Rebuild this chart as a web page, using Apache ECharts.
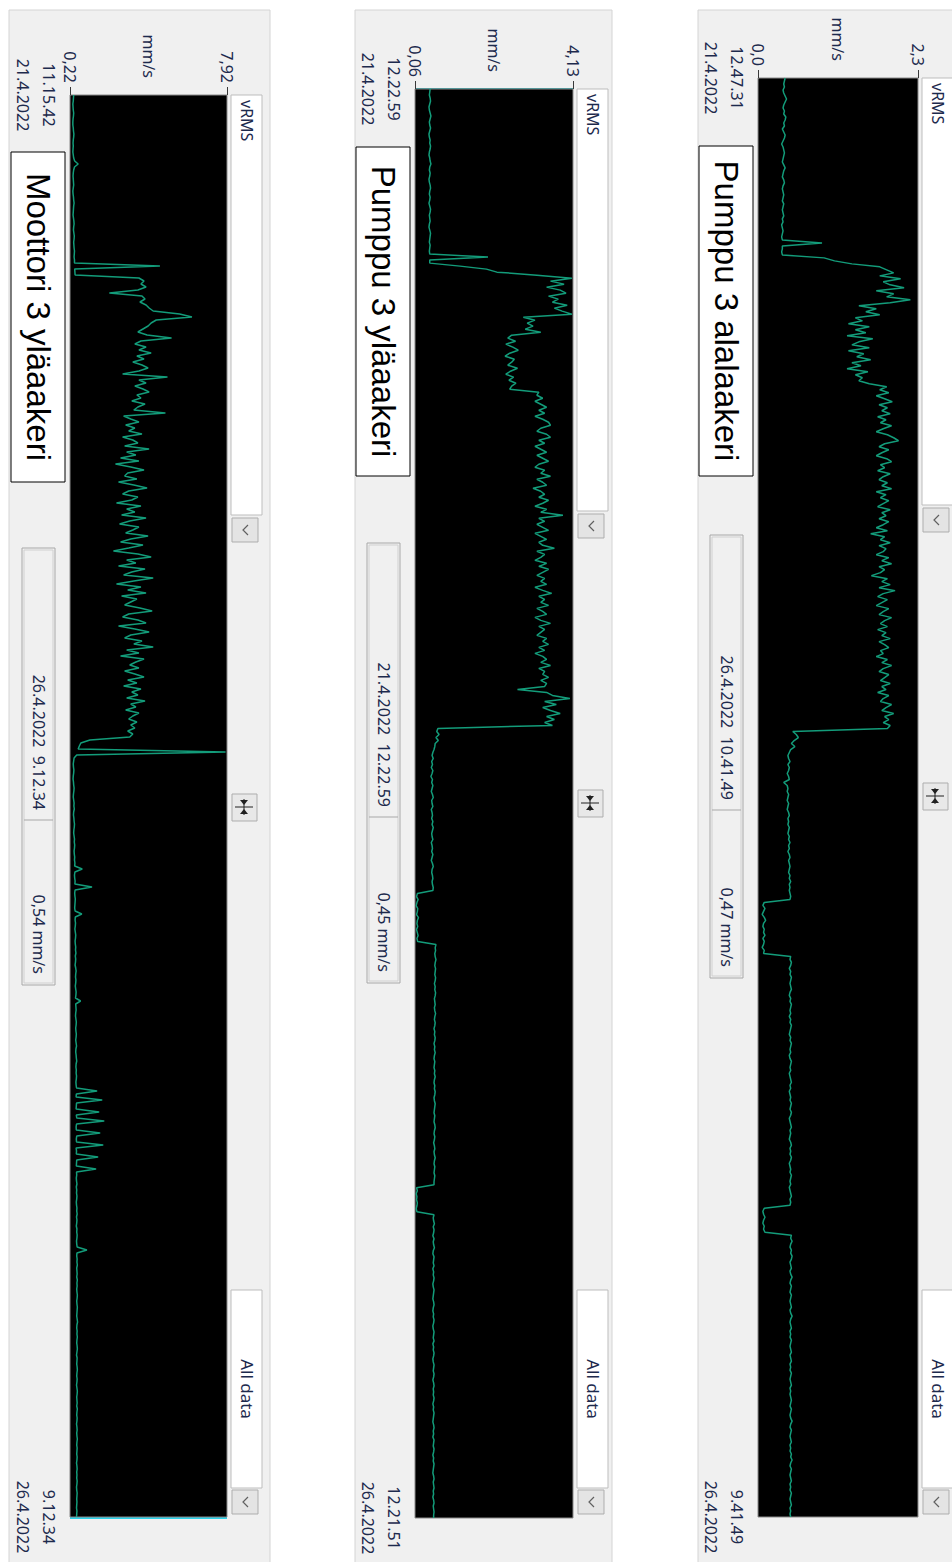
<!DOCTYPE html>
<html>
<head>
<meta charset="utf-8">
<script src="https://cdn.jsdelivr.net/npm/echarts@6/dist/echarts.min.js"></script>
<style>
  html, body { margin: 0; padding: 0; background: #ffffff; }
  #chart { width: 952px; height: 1562px; }
</style>
</head>
<body>
<div id="chart"></div>
<script>
// ---- vRMS trend data (mm/s), equally spaced samples, start -> end ----
const motorUpperRms = [
  0.40,0.39,0.38,0.36,0.37,0.38,0.40,0.39,0.37,0.36,0.36,0.38,0.39,0.41,0.40,0.38,0.37,0.38,0.37,0.36,
  0.38,0.40,0.45,0.62,0.44,0.40,0.38,0.37,0.38,0.39,0.40,0.38,0.36,0.37,0.39,0.40,0.42,0.40,0.39,0.38,
  0.37,0.39,0.41,0.42,0.40,0.39,0.41,0.43,0.42,0.40,0.41,0.42,0.44,0.43,0.42,0.44,
  0.44,4.63,0.45,0.46,0.47,
  3.60,3.85,3.70,3.95,3.55,2.15,3.75,3.90,3.65,3.95,
  4.10,4.30,5.60,6.20,4.45,4.20,4.05,
  3.80,3.55,4.00,5.20,3.70,3.40,3.95,3.60,4.20,3.50,3.85,3.30,3.75,4.05,3.60,
  2.80,5.00,3.60,3.95,3.40,3.80,4.10,3.50,3.70,3.25,3.90,3.55,3.35,
  4.90,2.85,3.20,3.60,2.95,3.40,3.10,3.75,2.80,3.30,3.55,2.90,4.10,
  3.00,3.45,2.70,3.60,2.45,3.20,3.85,3.05,2.90,3.50,2.60,3.35,4.00,3.10,2.80,3.55,3.25,2.50,3.70,3.00,
  3.40,2.75,3.95,3.15,2.65,3.60,3.30,2.95,4.05,3.20,
  2.70,3.80,3.10,2.35,3.55,4.20,3.00,3.45,2.60,3.90,3.25,2.85,4.30,3.35,2.50,3.70,3.05,3.95,2.75,3.50,
  3.20,2.90,
  3.65,4.25,3.10,2.80,3.55,3.95,2.60,3.40,4.10,3.20,2.90,3.75,3.35,4.30,3.00,3.60,2.70,3.85,3.45,3.15,
  3.60,2.90,3.40,3.85,3.05,3.50,2.85,3.70,3.25,3.55,3.00,3.90,3.20,3.45,2.95,3.60,3.30,3.10,3.50,3.20,
  3.40,3.05,3.30,3.15,
  1.20,0.75,0.68,0.62,7.85,0.55,
  0.42,0.40,0.38,0.39,0.41,0.40,0.38,0.37,0.39,0.40,0.42,0.41,0.39,0.38,0.40,0.42,0.41,0.43,0.40,0.39,
  0.41,0.42,0.44,0.43,0.41,0.40,0.42,0.44,0.43,0.45,0.44,0.42,0.43,0.45,0.44,
  0.46,0.45,0.82,0.46,0.44,0.45,0.47,0.46,1.30,0.47,0.45,0.46,0.48,0.47,0.46,0.45,0.47,0.80,0.48,
  0.47,0.49,0.48,0.46,0.48,0.50,0.49,0.47,0.48,0.50,0.49,0.51,0.48,0.50,0.49,0.47,0.50,0.52,0.50,0.49,
  0.51,0.50,0.48,0.50,0.52,0.51,0.49,0.74,0.50,0.51,0.52,0.50,0.49,0.51,0.53,0.52,0.50,0.51,0.53,0.52,
  0.50,0.52,0.54,0.51,0.50,0.52,0.53,0.55,0.52,0.51,0.53,0.52,0.54,0.53,0.51,0.52,0.54,
  1.55,0.53,0.52,1.80,0.54,0.53,0.52,1.65,0.53,0.55,1.90,0.54,0.52,0.53,1.70,0.55,0.53,0.54,1.85,0.52,
  0.54,0.53,1.60,0.55,0.54,0.53,1.50,0.54,0.55,0.53,
  0.54,0.56,0.53,0.55,0.54,0.56,0.55,0.53,0.54,0.56,0.55,0.57,0.54,0.56,0.55,0.53,0.56,0.55,0.57,0.56,
  0.54,0.55,0.57,1.05,0.56,0.55,0.57,0.56,0.58,0.55,0.56,0.57,0.55,0.58,0.56,0.57,0.55,0.56,0.58,0.57,
  0.55,0.56,0.58,0.57,0.56,0.55,0.57,0.59,0.56,0.55,0.57,0.56,0.58,0.56,0.55,0.57,0.58,0.56,0.54,0.57,
  0.56,0.55,0.57,0.58,0.56,0.55,0.57,0.56,0.54,0.56,0.58,0.57,0.55,0.56,0.57,0.55,0.58,0.56,0.55,0.57,
  0.56,0.54,0.56,0.57,0.55,0.56,0.58,0.56,0.55,0.57,0.56,0.55,0.57,0.56,0.54,0.56,0.57,0.55,0.56,0.55,
  0.57,0.56,0.54,0.55,0.57,0.56,0.55,0.56,0.55,0.54,0.56,0.55,0.54
];
const pumpUpperRms = [
  0.45,0.44,0.43,0.45,0.46,0.44,0.42,0.43,0.45,0.47,0.45,0.43,0.44,0.46,0.44,0.42,0.43,0.45,0.44,0.46,
  0.45,0.43,0.42,0.44,0.45,0.47,0.44,0.43,0.45,0.44,0.42,0.43,0.45,0.46,0.44,0.43,0.45,0.44,0.42,0.44,
  0.46,0.45,0.43,0.44,0.45,0.43,0.42,0.44,0.46,0.45,0.44,0.43,0.45,0.44,0.43,0.44,
  1.94,0.44,0.44,1.22,1.90,2.17,3.20,4.10,
  3.55,3.90,3.45,3.80,3.95,3.50,3.75,3.60,3.98,3.65,3.85,
  4.10,
  2.85,3.15,2.95,3.10,2.90,
  3.30,2.55,
  2.45,2.65,2.40,2.58,2.72,2.50,2.38,2.62,2.55,2.45,2.70,2.52,2.40,2.60,2.48,2.66,2.55,2.50,
  3.25,
  3.20,3.35,3.15,3.30,3.45,3.25,3.40,3.15,3.35,3.50,3.55,3.30,3.20,3.45,3.55,3.25,3.40,3.15,3.30,3.45,
  3.20,3.35,3.50,3.25,3.15,3.40,3.30,3.55,3.20,3.35,3.45,3.10,3.30,3.40,3.25,3.50,3.35,3.15,3.45,3.30,
  3.87,3.25,3.40,3.20,3.35,3.50,3.15,3.30,3.45,3.25,3.35,3.65,3.20,3.40,3.30,3.15,3.45,3.25,3.50,3.35,
  3.20,3.40,3.30,3.45,3.15,3.35,3.58,3.25,3.40,3.30,3.50,3.20,3.35,3.45,3.15,3.30,3.55,3.25,3.40,3.30,
  3.20,3.45,3.35,3.50,3.25,3.40,3.15,3.35,3.45,3.30,3.55,3.25,3.40,3.35,3.50,3.30,3.45,3.40,
  2.70,
  3.45,3.60,4.05,3.40,3.70,3.35,3.55,3.80,3.45,3.65,3.40,3.60,
  0.65,
  0.62,0.68,0.60,0.66,0.58,0.57,
  0.55,0.52,0.50,0.53,0.49,0.51,0.48,0.52,0.50,0.47,0.51,0.49,0.52,0.50,0.48,0.51,0.53,0.49,0.50,0.52,
  0.48,0.50,0.51,0.49,0.52,0.50,0.53,0.51,0.49,0.50,0.52,0.48,0.50,0.51,0.49,0.52,0.50,0.48,0.51,0.53,
  0.50,0.49,0.51,0.52,0.50,0.51,0.53,0.52,
  0.12,0.10,0.14,0.11,0.09,0.13,0.12,0.10,0.15,0.12,0.11,0.13,0.10,0.12,0.14,0.11,0.13,
  0.60,0.58,0.59,0.57,0.58,0.60,0.58,0.57,0.59,0.58,0.57,0.59,0.58,0.56,0.58,0.57,0.59,0.58,0.56,0.57,
  0.58,0.56,0.57,0.59,0.57,0.56,0.58,0.57,0.55,0.57,0.56,0.58,0.57,0.55,0.57,0.56,0.58,0.56,0.55,0.57,
  0.56,0.55,0.57,0.56,0.58,0.56,0.55,0.57,0.56,0.58,0.57,0.55,0.56,0.58,0.57,0.56,0.55,0.57,0.56,0.55,
  0.57,0.58,0.56,0.55,0.57,0.56,0.54,0.56,0.57,0.55,0.56,0.58,0.56,0.55,0.57,0.56,0.55,0.57,0.56,0.55,
  0.55,
  0.10,0.12,0.09,0.11,0.10,0.12,0.11,0.09,0.11,
  0.55,0.53,0.54,0.56,0.53,0.55,0.54,0.52,0.55,0.53,0.54,0.56,0.53,0.52,0.55,0.54,0.53,0.55,0.52,0.54,
  0.53,0.55,0.54,0.52,0.53,0.55,0.54,0.53,0.52,0.54,0.55,0.53,0.52,0.54,0.53,0.55,0.54,0.52,0.53,0.55,
  0.54,0.53,0.55,0.52,0.54,0.53,0.55,0.54,0.52,0.53,0.55,0.54,0.53,0.55,0.54,0.52,0.54,0.55,0.53,0.54,
  0.53,0.55,0.54,0.52,0.54,0.53,0.55,0.54,0.53,0.52,0.54,0.55,0.53,0.54,0.52,0.55,0.54,0.53,0.55,0.54,
  0.52,0.54,0.53,0.55,0.54,0.53,0.52,0.54,0.55,0.53,0.54,0.55,0.53,0.54,0.52,0.54,0.55,0.53,0.54,0.55,
  0.54,0.54
];
const pumpLowerRms = [
  0.39,0.38,0.37,0.38,0.36,0.37,0.39,0.41,0.39,0.37,0.36,0.38,0.37,0.40,0.39,0.37,0.38,0.35,0.37,0.39,
  0.38,0.36,0.34,0.36,0.37,0.38,0.37,0.36,0.35,0.37,0.39,0.37,0.36,0.35,0.37,0.38,0.36,0.35,0.36,0.37,
  0.36,0.35,0.37,0.36,0.35,0.36,0.37,0.35,0.36,0.34,0.35,0.36,0.35,0.34,0.35,
  0.92,
  0.35,0.35,0.34,0.35,
  0.95,1.10,1.35,1.75,
  1.85,1.95,1.75,2.05,1.80,1.90,2.10,1.70,1.95,1.85,2.19,1.90,
  1.45,1.70,
  1.55,1.75,1.40,
  1.50,1.30,1.60,1.40,1.55,1.28,1.65,1.45,1.35,1.60,1.30,1.52,1.42,1.62,1.35,1.48,1.28,1.58,1.40,1.50,
  1.45,
  1.60,1.85,
  1.75,1.88,1.70,1.82,1.93,1.74,1.86,1.78,1.90,1.72,1.84,1.76,1.92,1.80,1.70,1.86,1.95,2.02,1.82,1.74,
  1.88,1.78,1.70,1.85,1.92,1.76,1.82,1.72,1.90,1.80,1.74,1.86,1.78,1.92,1.70,1.84,1.76,1.88,1.80,1.72,
  1.90,1.78,1.84,1.74,1.88,1.80,1.70,1.86,1.62,1.82,1.76,1.90,1.74,1.84,1.80,1.70,1.88,1.78,1.92,1.74,
  1.82,1.76,1.63,1.86,1.78,1.90,1.74,1.97,1.80,1.72,1.86,1.78,1.70,1.88,1.80,1.74,1.92,1.82,1.76,1.86,
  1.72,1.84,1.78,1.90,1.74,1.82,1.88,1.76,1.80,1.70,1.86,1.78,1.92,1.80,1.74,1.88,1.82,1.76,1.90,1.78,
  1.84,1.72,1.88,1.80,1.76,1.92,1.84,1.78,1.95,1.82,1.88,1.80,1.90,1.86,
  0.50,
  0.55,0.58,0.52,0.48,0.53,0.47,
  0.45,0.43,0.44,0.46,0.43,0.45,0.44,0.42,0.44,0.45,
  0.37,
  0.42,0.43,0.42,0.44,0.43,0.42,0.44,0.43,0.42,0.44,0.45,0.43,0.44,0.43,0.45,0.44,0.43,0.45,0.44,0.46,
  0.44,0.45,0.43,0.45,0.46,0.44,0.45,0.46,0.45,0.44,0.46,0.45,0.47,0.45,0.46,0.45,0.46,0.47,0.46,
  0.09,0.07,0.10,0.08,0.06,0.09,0.11,0.08,0.07,0.09,0.08,0.10,0.07,0.09,0.08,0.06,0.09,0.08,
  0.47,0.46,0.48,0.47,0.45,0.47,0.46,0.48,0.47,0.46,0.47,0.48,0.46,0.45,0.47,0.46,0.48,0.47,0.46,0.47,
  0.45,0.47,0.46,0.48,0.47,0.46,0.45,0.47,0.46,0.48,0.47,0.46,0.47,0.45,0.46,0.48,0.47,0.46,0.47,0.45,
  0.46,0.47,0.48,0.46,0.47,0.45,0.46,0.47,0.46,0.48,0.47,0.46,0.48,0.47,0.45,0.46,0.47,0.48,0.46,0.47,
  0.46,0.45,0.47,0.48,0.46,0.47,0.46,0.48,0.47,0.45,0.46,0.47,0.46,0.48,0.47,0.46,0.47,0.45,0.46,0.47,
  0.48,0.46,0.47,0.46,
  0.09,0.07,0.08,0.10,0.08,0.07,0.09,0.08,0.10,
  0.48,0.47,0.49,0.47,0.46,0.48,0.47,0.49,0.48,0.46,0.47,0.48,0.46,0.47,0.49,0.47,0.46,0.48,0.47,0.46,
  0.48,0.47,0.46,0.47,0.48,0.46,0.47,0.49,0.47,0.46,0.47,0.48,0.46,0.47,0.46,0.48,0.47,0.46,0.47,0.48,
  0.46,0.47,0.48,0.46,0.47,0.46,0.48,0.47,0.46,0.47,0.48,0.46,0.47,0.46,0.47,0.48,0.47,0.46,0.48,0.47,
  0.46,0.47,0.49,0.47,0.46,0.48,0.47,0.46,0.47,0.48,0.46,0.47,0.46,0.48,0.47,0.49,0.47,0.46,0.48,0.47,
  0.46,0.47,0.48,0.46,0.47,0.46,0.48,0.47,0.46,0.47,0.48,0.46,0.47,0.46,0.47
];

// ---- texts ----
const panelTitles   = ['Moottori 3 yläaakeri', 'Pumppu 3 yläaakeri', 'Pumppu 3 alalaakeri'];
const valueRanges   = [[0.22, 7.92], [0.06, 4.13], [0.0, 2.3]];
const valueDecimals = [2, 2, 1];
const startLabels   = ['11.15.42\n21.4.2022', '12.22.59\n21.4.2022', '12.47.31\n21.4.2022'];
const endLabels     = ['9.12.34\n26.4.2022', '12.21.51\n26.4.2022', '9.41.49\n26.4.2022'];
const cursorTimes   = ['26.4.2022  9.12.34', '21.4.2022  12.22.59', '26.4.2022  10.41.49'];
const cursorValues  = ['0,54 mm/s', '0,45 mm/s', '0,47 mm/s'];
const unitName      = 'mm/s';
const quantityName  = 'vRMS';
const rangeName     = 'All data';
const seriesList    = [motorUpperRms, pumpUpperRms, pumpLowerRms];

// ---- layout of the three rotated trend panels ----
const layout = [
  { gl: 70,  gt: 95, gw: 157, gh: 1422, bgL: 9,   bgR: 270, selEnd: 515, chev1: 518, comp: 794,
    allTop: 1290, allBot: 1488, chev2: 1490, tTop: 152, tBot: 482, rTop: 548, rDiv: 820, rBot: 985,
    cursor: 'end', cursorColor: '#2ad2ea' },
  { gl: 415, gt: 89, gw: 158, gh: 1429, bgL: 355, bgR: 612, selEnd: 511, chev1: 514, comp: 790,
    allTop: 1290, allBot: 1488, chev2: 1490, tTop: 147, tBot: 476, rTop: 543, rDiv: 817, rBot: 983,
    cursor: 'start', cursorColor: '#1fa0a6' },
  { gl: 758, gt: 78, gw: 160, gh: 1439, bgL: 698, bgR: 980, selEnd: 505, chev1: 508, comp: 783,
    allTop: 1290, allBot: 1488, chev2: 1490, tTop: 146, tBot: 476, rTop: 535, rDiv: 810, rBot: 978,
    cursor: null, cursorColor: null }
];

const UI_FONT = '"Noto Sans", "DejaVu Sans", sans-serif';
const LABEL_COLOR = '#1d2a4d';
const TRACE_COLOR = '#139c7a';

function rect(x, y, w, h, fill, stroke, z) {
  return { type: 'rect', z: z, silent: true,
    shape: { x: x, y: y, width: w, height: h },
    style: { fill: fill, stroke: stroke || null, lineWidth: 1 } };
}
// text turned a quarter turn clockwise, read from top to bottom
function vText(x, y, text, o) {
  o = o || {};
  return { type: 'text', z: 20, silent: true, x: x, y: y, rotation: -Math.PI / 2,
    style: { text: text, fill: o.color || LABEL_COLOR,
      font: (o.weight || 'normal') + ' ' + (o.size || 16) + 'px ' + (o.family || UI_FONT),
      align: o.align || 'center', verticalAlign: o.va || 'middle',
      textAlign: o.align || 'center', textVerticalAlign: o.va || 'middle' } };
}
function chevronButton(x, y) {
  // small drop-down button, its arrow turned with the panel
  return [
    rect(x, y, 26, 24, '#e4e4e4', '#adadad', 3),
    { type: 'polyline', z: 4, silent: true,
      shape: { points: [[x + 16, y + 7], [x + 11, y + 12], [x + 16, y + 17]] },
      style: { stroke: '#606060', lineWidth: 1.2, fill: null } }
  ];
}
function compressButton(x, y) {
  const cx = x + 12, cy = y + 13;
  return [
    rect(x, y, 25, 27, '#e8e8e8', '#adadad', 3),
    { type: 'line', z: 4, silent: true, shape: { x1: cx - 9, y1: cy, x2: cx + 9, y2: cy },
      style: { stroke: '#202020', lineWidth: 1 } },
    { type: 'line', z: 4, silent: true, shape: { x1: cx, y1: cy - 8, x2: cx, y2: cy + 8 },
      style: { stroke: '#202020', lineWidth: 1 } },
    { type: 'polygon', z: 4, silent: true, shape: { points: [[cx - 4, cy - 7], [cx + 4, cy - 7], [cx, cy - 2]] },
      style: { fill: '#202020' } },
    { type: 'polygon', z: 4, silent: true, shape: { points: [[cx - 4, cy + 7], [cx + 4, cy + 7], [cx, cy + 2]] },
      style: { fill: '#202020' } }
  ];
}

const option = {
  animation: false,
  backgroundColor: '#ffffff',
  grid: [], xAxis: [], yAxis: [], series: []
};

layout.forEach(function (L, k) {
  const values = seriesList[k];
  const n = values.length;
  const range = valueRanges[k];
  const steps = values.map(function (_, i) { return String(i); });

  option.grid.push({ left: L.gl, top: L.gt, width: L.gw, height: L.gh, show: true, z: 6,
    backgroundColor: '#000000', borderColor: '#8a8a8a', borderWidth: 1 });

  option.xAxis.push({
    type: 'value', gridIndex: k, position: 'top', min: range[0], max: range[1], z: 8,
    name: unitName, nameLocation: 'middle', nameRotate: -90, nameGap: 17, nameMoveOverlap: false,
    nameTextStyle: { color: LABEL_COLOR, fontSize: 16, fontFamily: UI_FONT },
    axisLine: { show: false }, splitLine: { show: false },
    axisTick: { show: true, customValues: range, length: 8, lineStyle: { color: '#3a3a3a' } },
    axisLabel: { show: false }
  });

  option.yAxis.push({
    type: 'category', gridIndex: k, inverse: true, boundaryGap: false, data: steps, z: 8,
    axisLine: { show: false }, axisTick: { show: false }, splitLine: { show: false },
    axisLabel: {
      rotate: -90, margin: 8, color: LABEL_COLOR, fontSize: 16, fontFamily: UI_FONT, lineHeight: 26,
      interval: function (i) { return i === 0 || i === n - 1; },
      formatter: function (v, i) { return i === 0 ? startLabels[k] : (i === n - 1 ? endLabels[k] : ''); }
    }
  });

  const s = {
    type: 'line', xAxisIndex: k, yAxisIndex: k, data: values,
    symbol: 'none', silent: true, lineStyle: { color: TRACE_COLOR, width: 1.5 }, z: 10
  };
  if (L.cursor) {
    s.markLine = { silent: true, symbol: 'none', label: { show: false },
      lineStyle: { color: L.cursorColor, width: 3, type: 'solid' },
      data: [{ yAxis: L.cursor === 'end' ? n - 1 : 0 }] };
  }
  option.series.push(s);
});

const chart = echarts.init(document.getElementById('chart'), null, { renderer: 'svg' });
chart.setOption(option);

// panel chrome and the value-axis end labels (placed on the axis scale)
const elements = [];
layout.forEach(function (L, k) {
  const E = elements;
  const right = L.gl + L.gw;
  const range = valueRanges[k];
  const dec = valueDecimals[k];
  E.push(rect(L.bgL, 10, L.bgR - L.bgL, 1560, '#f0f0f0', '#d4d4d4', 0));
  range.forEach(function (v) {
    const px = chart.convertToPixel({ xAxisIndex: k }, v);
    E.push(vText(px, L.gt - 12, v.toFixed(dec).replace('.', ','), { align: 'right' }));
  });
  E.push(rect(right + 4, L.gt, 31, L.selEnd - L.gt, '#ffffff', '#bdbdbd', 2));
  E.push(vText(right + 20, L.gt + 5, quantityName, { align: 'left' }));
  chevronButton(right + 5, L.chev1).forEach(function (e) { E.push(e); });
  compressButton(right + 5, L.comp).forEach(function (e) { E.push(e); });
  E.push(rect(right + 4, L.allTop, 31, L.allBot - L.allTop, '#ffffff', '#bdbdbd', 2));
  E.push(vText(right + 20, (L.allTop + L.allBot) / 2, rangeName, { size: 17 }));
  chevronButton(right + 5, L.chev2).forEach(function (e) { E.push(e); });
  E.push(rect(L.gl - 59, L.tTop, 54, L.tBot - L.tTop, '#ffffff', '#000000', 2));
  E.push(vText(L.gl - 32, (L.tTop + L.tBot) / 2, panelTitles[k],
    { size: 33, color: '#000000', family: '"Liberation Sans", Arial, sans-serif' }));
  E.push(rect(L.gl - 48, L.rTop, 33, L.rBot - L.rTop, '#f0f0f0', '#a8a8a8', 2));
  E.push(rect(L.gl - 46, L.rTop + 2, 29, L.rBot - L.rTop - 4, '#f0f0f0', '#d0d0d0', 2));
  E.push({ type: 'line', z: 3, silent: true,
    shape: { x1: L.gl - 46, y1: L.rDiv, x2: L.gl - 17, y2: L.rDiv },
    style: { stroke: '#a8a8a8', lineWidth: 1 } });
  E.push(vText(L.gl - 31, L.rDiv - 10, cursorTimes[k], { align: 'right' }));
  E.push(vText(L.gl - 31, L.rBot - 11, cursorValues[k], { align: 'right' }));
});
chart.setOption({ graphic: { z: 0, zlevel: 0, elements: elements } });
</script>
</body>
</html>
